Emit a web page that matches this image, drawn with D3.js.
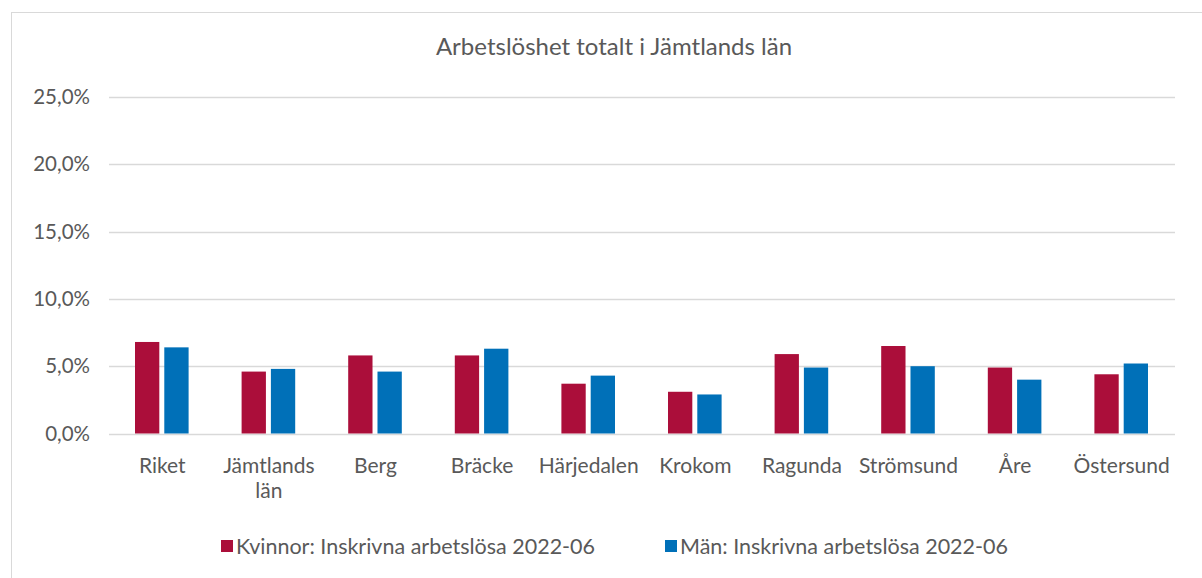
<!DOCTYPE html>
<html>
<head>
<meta charset="utf-8">
<script src="https://cdn.jsdelivr.net/npm/d3@7"></script>
<style>
  body { margin: 0; background: #fff; }
  text { font-family: Lato, "Open Sans", sans-serif; fill: #595959; }
</style>
</head>
<body>
<script>
var categories = ["Riket", "Jämtlands län", "Berg", "Bräcke", "Härjedalen", "Krokom", "Ragunda", "Strömsund", "Åre", "Östersund"];
var kvinnor = [6.8, 4.6, 5.8, 5.8, 3.7, 3.1, 5.9, 6.5, 4.9, 4.4];
var man = [6.4, 4.8, 4.6, 6.3, 4.3, 2.9, 4.9, 5.0, 4.0, 5.2];
var seriesNames = ["Kvinnor: Inskrivna arbetslösa 2022-06", "Män: Inskrivna arbetslösa 2022-06"];
var yTicks = [0, 5, 10, 15, 20, 25];
var colors = ["#AB0E3A", "#0070B8"];

var width = 1202, height = 578;
var margin = {top: 97, right: 27, bottom: 145, left: 109};

var svg = d3.select("body").append("svg")
    .attr("width", width)
    .attr("height", height);

// chart frame
svg.append("rect")
    .attr("x", 11.5).attr("y", 12.5)
    .attr("width", 1200).attr("height", 600)
    .attr("fill", "none")
    .attr("stroke", "#d9d9d9");

var x = d3.scaleBand()
    .domain(categories)
    .range([margin.left, width - margin.right])
    .paddingInner(0).paddingOuter(0);

var x1 = d3.scaleBand()
    .domain([0, 1])
    .range([26, x.bandwidth() - 27])
    .paddingInner(0.17);

var y = d3.scaleLinear()
    .domain([0, 25])
    .range([height - margin.bottom + 0.5, margin.top]);

// gridlines
svg.append("g").selectAll("line")
    .data(yTicks)
  .enter().append("line")
    .attr("x1", margin.left).attr("x2", width - margin.right)
    .attr("y1", function(d) { return Math.round(y(d)) + 0.5; })
    .attr("y2", function(d) { return Math.round(y(d)) + 0.5; })
    .attr("stroke", "#d9d9d9")
    .attr("stroke-width", 1.3);

// y labels
svg.append("g").selectAll("text")
    .data(yTicks)
  .enter().append("text")
    .attr("x", 90)
    .attr("y", function(d) { return y(d); })
    .attr("dy", "0.35em")
    .attr("text-anchor", "end")
    .style("font-size", "20.5px")
    .text(function(d) { return d.toFixed(1).replace(".", ",") + "%"; });

// bars
var groups = svg.append("g").selectAll("g")
    .data(categories)
  .enter().append("g")
    .attr("transform", function(d) { return "translate(" + x(d) + ",0)"; });

groups.selectAll("rect")
    .data(function(d, i) { return [kvinnor[i], man[i]]; })
  .enter().append("rect")
    .attr("x", function(d, j) { return x1(j); })
    .attr("width", x1.bandwidth())
    .attr("y", function(d) { return y(d); })
    .attr("height", function(d) { return y(0) - y(d); })
    .attr("fill", function(d, j) { return colors[j]; });

// category labels
var labels = svg.append("g").selectAll("text")
    .data(categories)
  .enter().append("text")
    .attr("x", function(d) { return x(d) + x.bandwidth() / 2; })
    .attr("y", 473)
    .attr("text-anchor", "middle")
    .style("font-size", "21px");

labels.each(function(d) {
  var t = d3.select(this);
  var parts = d === "Jämtlands län" ? ["Jämtlands", "län"] : [d];
  parts.forEach(function(p, i) {
    t.append("tspan")
        .attr("x", t.attr("x"))
        .attr("dy", i === 0 ? 0 : 25)
        .text(p);
  });
});

// title
svg.append("text")
    .attr("x", 614)
    .attr("y", 55)
    .attr("text-anchor", "middle")
    .style("font-size", "24px")
    .text("Arbetslöshet totalt i Jämtlands län");

// legend
var legendX = [221, 665];
var legend = svg.append("g").selectAll("g")
    .data(seriesNames)
  .enter().append("g")
    .attr("transform", function(d, i) { return "translate(" + legendX[i] + ",540)"; });

legend.append("rect")
    .attr("width", 12).attr("height", 12)
    .attr("fill", function(d, i) { return colors[i]; });

legend.append("text")
    .attr("x", 15)
    .attr("y", 6)
    .attr("dy", "0.35em")
    .style("font-size", "21.5px")
    .text(function(d) { return d; });
</script>
</body>
</html>
